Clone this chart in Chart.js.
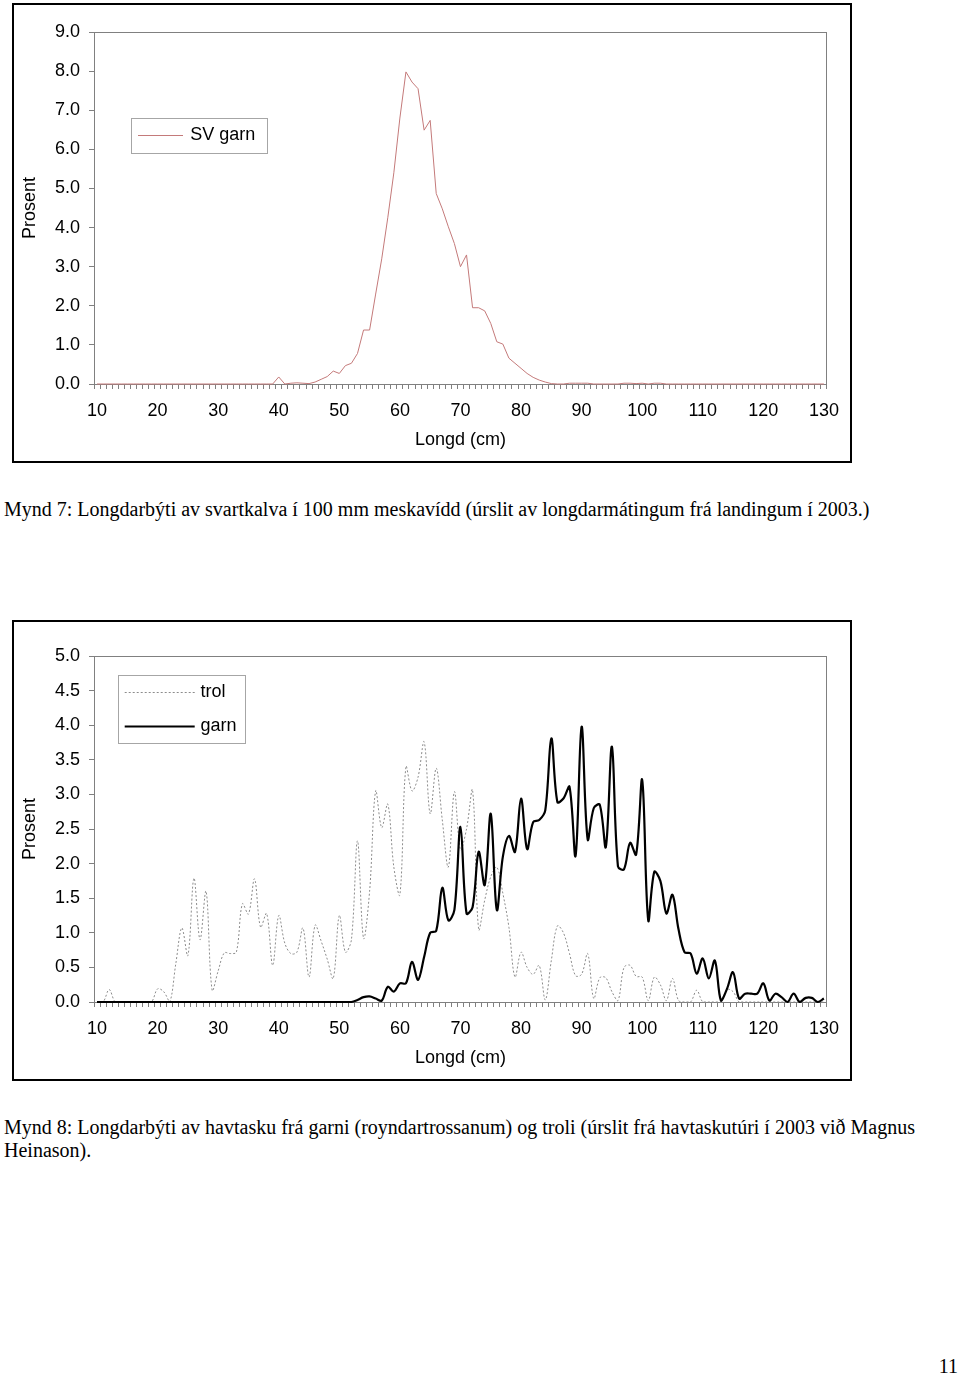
<!DOCTYPE html>
<html>
<head>
<meta charset="utf-8">
<title>Longdarbýti</title>
<script src="https://cdn.jsdelivr.net/npm/chart.js@4.4.1/dist/chart.umd.min.js"></script>
<style>
  html, body { margin: 0; padding: 0; background: #fff; }
  body { position: relative; width: 960px; height: 1375px; overflow: hidden; }
  .frame { position: absolute; left: 12px; width: 840px; box-sizing: border-box; border: 2px solid #000; background: #fff; }
  .frame .inner { position: relative; width: 836px; }
  .caption { position: absolute; left: 4px; font-family: "Liberation Serif", "Times New Roman", serif; font-size: 20px; line-height: 22.5px; color: #000; white-space: nowrap; }
</style>
</head>
<body>

<div class="frame" style="top:3px;height:460px"><div class="inner" style="height:456px"><canvas id="chartSv"></canvas></div></div>
<div class="caption" style="top:498px">Mynd 7: Longdarbýti av svartkalva í 100 mm meskavídd (úrslit av longdarmátingum frá landingum í 2003.)</div>

<div class="frame" style="top:620px;height:461px"><div class="inner" style="height:457px"><canvas id="chartHav"></canvas></div></div>
<div class="caption" style="top:1116px">Mynd 8: Longdarbýti av havtasku frá garni (royndartrossanum) og troli (úrslit frá havtaskutúri í 2003 við Magnus<br>Heinason).</div>

<div class="caption" style="top:1355px;left:auto;right:2px">11</div>

<script>
// Longd (cm): ein bólkur fyri hvønn cm, 10..130
const longdir = [];
for (let cm = 10; cm <= 130; cm++) longdir.push(cm);

// Mynd 7 - svartkalvi, SV garn (prosent)
const svGarn = [
  0, 0, 0, 0, 0, 0, 0, 0, 0, 0,                            // 10-19
  0, 0, 0, 0, 0, 0, 0, 0, 0, 0,                            // 20-29
  0, 0, 0, 0, 0, 0, 0, 0, 0, 0,                            // 30-39
  0.18, 0, 0.02, 0.03, 0.02, 0.01, 0.05, 0.12, 0.19, 0.33, // 40-49
  0.27, 0.47, 0.53, 0.78, 1.38, 1.38, 2.3, 3.2, 4.25, 5.4, // 50-59
  6.8, 7.98, 7.72, 7.55, 6.49, 6.74, 4.87, 4.48, 4.02, 3.59, // 60-69
  3.0, 3.3, 1.95, 1.95, 1.87, 1.55, 1.08, 1.02, 0.66, 0.53,  // 70-79
  0.4, 0.27, 0.17, 0.1, 0.05, 0.01, 0, 0, 0.02, 0.02,        // 80-89
  0.02, 0.02, 0, 0, 0, 0, 0, 0.02, 0.02, 0.01,               // 90-99
  0.02, 0, 0.02, 0.02, 0, 0, 0, 0, 0, 0,                     // 100-109
  0, 0, 0, 0, 0, 0, 0, 0, 0, 0,                              // 110-119
  0, 0, 0, 0, 0, 0, 0, 0, 0, 0, 0                            // 120-130
];

// Mynd 8 - havtaska, trol (prosent)
const trol = [
  0, 0, 0.18, 0, 0, 0, 0, 0, 0, 0,                           // 10-19
  0.19, 0.15, 0, 0.55, 1.07, 0.67, 1.79, 0.9, 1.6, 0.17,     // 20-29
  0.45, 0.71, 0.7, 0.72, 1.42, 1.27, 1.78, 1.08, 1.28, 0.53, // 30-39
  1.25, 0.85, 0.7, 0.72, 1.07, 0.36, 1.11, 0.88, 0.62, 0.34, // 40-49
  1.25, 0.72, 0.9, 2.33, 0.92, 1.6, 3.05, 2.52, 2.86, 1.95,  // 50-59
  1.55, 3.4, 3.05, 3.25, 3.76, 2.72, 3.38, 2.63, 1.95, 3.04, // 60-69
  2.2, 2.5, 3.06, 1.05, 1.47, 1.81, 1.95, 1.57, 1.08, 0.36,  // 70-79
  0.72, 0.5, 0.4, 0.53, 0.03, 0.6, 1.1, 1.0, 0.7, 0.38,      // 80-89
  0.4, 0.7, 0.05, 0.35, 0.35, 0.15, 0.02, 0.5, 0.53, 0.37,   // 90-99
  0.36, 0.02, 0.36, 0.25, 0.02, 0.34, 0.02, 0, 0, 0.17,      // 100-109
  0, 0, 0, 0, 0.18, 0.15, 0, 0, 0, 0,                        // 110-119
  0, 0, 0, 0, 0, 0, 0, 0, 0, 0, 0                            // 120-130
];

// Mynd 8 - havtaska, garn (prosent)
const garn = [
  0, 0, 0, 0, 0, 0, 0, 0, 0, 0,                              // 10-19
  0, 0, 0, 0, 0, 0, 0, 0, 0, 0,                              // 20-29
  0, 0, 0, 0, 0, 0, 0, 0, 0, 0,                              // 30-39
  0, 0, 0, 0, 0, 0, 0, 0, 0, 0,                              // 40-49
  0, 0, 0, 0.03, 0.07, 0.08, 0.05, 0.02, 0.22, 0.15,         // 50-59
  0.27, 0.27, 0.58, 0.32, 0.65, 1.0, 1.03, 1.65, 1.18, 1.33, // 60-69
  2.53, 1.28, 1.37, 2.17, 1.69, 2.72, 1.33, 2.1, 2.4, 2.17,  // 70-79
  2.94, 2.21, 2.6, 2.63, 2.77, 3.81, 2.89, 2.94, 3.11, 2.11, // 80-89
  3.98, 2.35, 2.8, 2.85, 2.24, 3.69, 1.96, 1.92, 2.3, 2.13,  // 90-99
  3.21, 1.18, 1.88, 1.75, 1.28, 1.55, 1.05, 0.72, 0.7, 0.41, // 100-109
  0.63, 0.34, 0.6, 0.02, 0.19, 0.43, 0.05, 0.12, 0.12, 0.12, // 110-119
  0.27, 0.02, 0.12, 0.07, 0, 0.12, 0, 0.06, 0.06, 0, 0.05    // 120-130
];

const FONT = '"Liberation Sans", Arial, sans-serif';
Chart.defaults.font.family = FONT;
Chart.defaults.font.size = 18;
Chart.defaults.color = '#000';

// gráur rammi rundan um teknaøkið
const plotFrame = {
  id: 'plotFrame',
  beforeDatasetsDraw(chart) {
    const { ctx, chartArea: a } = chart;
    ctx.save();
    ctx.strokeStyle = '#808080';
    ctx.lineWidth = 1;
    ctx.strokeRect(Math.round(a.left) + 0.5, Math.round(a.top) + 0.5, Math.round(a.width) - 1, Math.round(a.height));
    ctx.restore();
  }
};

// forklaring í kassa inni í teknaøkinum
const boxLegend = {
  id: 'boxLegend',
  afterDraw(chart, args, opts) {
    const { ctx, chartArea } = chart;
    const x = Math.round(chartArea.left + opts.x);
    const y = Math.round(chartArea.top + opts.y);
    ctx.save();
    ctx.fillStyle = '#fff';
    ctx.fillRect(x, y, opts.w, opts.h);
    ctx.strokeStyle = '#a6a6a6';
    ctx.lineWidth = 1;
    ctx.strokeRect(x + 0.5, y + 0.5, opts.w, opts.h);
    opts.rows.forEach(row => {
      const ds = chart.data.datasets[row.dataset];
      const ly = Math.round(y + row.y) + 0.5;
      ctx.beginPath();
      ctx.setLineDash(ds.borderDash || []);
      ctx.strokeStyle = ds.borderColor;
      ctx.lineWidth = ds.borderWidth;
      ctx.moveTo(x + opts.lineFrom, ly);
      ctx.lineTo(x + opts.lineTo, ly);
      ctx.stroke();
      ctx.setLineDash([]);
      ctx.fillStyle = '#000';
      ctx.font = '18px ' + FONT;
      ctx.textBaseline = 'middle';
      ctx.fillText(ds.label, x + opts.textX, ly);
    });
    ctx.restore();
  }
};

function makeChart(canvasId, datasets, yMax, yStep, padTop, legendOpts) {
  const ctx = document.getElementById(canvasId);
  return new Chart(ctx, {
    type: 'line',
    data: { labels: longdir, datasets: datasets },
    plugins: [plotFrame, boxLegend],
    options: {
      responsive: true,
      maintainAspectRatio: false,
      animation: false,
      layout: { padding: { top: padTop, right: 21, bottom: 0, left: 0 } },
      elements: { point: { radius: 0, hoverRadius: 0 } },
      plugins: {
        legend: { display: false },
        tooltip: { enabled: false },
        boxLegend: legendOpts
      },
      scales: {
        x: {
          type: 'category',
          offset: true,
          grid: { display: true, offset: true, drawOnChartArea: false, drawTicks: true, tickLength: 5, color: '#808080' },
          border: { display: true, color: '#808080' },
          ticks: {
            autoSkip: false, maxRotation: 0, minRotation: 0, padding: 11,
            callback: (val, idx) => (longdir[idx] % 10 === 0 ? String(longdir[idx]) : '')
          },
          title: { display: true, text: 'Longd (cm)', padding: { top: 0, bottom: 10 } },
          afterFit: s => { s.height = 77; }
        },
        y: {
          min: 0, max: yMax,
          grid: { display: true, drawOnChartArea: false, drawTicks: true, tickLength: 5, color: '#808080' },
          border: { display: true, color: '#808080' },
          ticks: { stepSize: yStep, padding: 9, callback: v => Number(v).toFixed(1) },
          title: { display: true, text: 'Prosent', padding: { top: 5, bottom: 0 } },
          afterFit: s => { s.width = 80; }
        }
      }
    }
  });
}

makeChart('chartSv', [
  { label: 'SV garn', data: svGarn, borderColor: '#c47a7a', borderWidth: 1, tension: 0, clip: false }
], 9, 1, 27, {
  x: 36.7, y: 86, w: 136, h: 35, lineFrom: 7, lineTo: 52, textX: 59.3,
  rows: [{ dataset: 0, y: 17 }]
});

makeChart('chartHav', [
  { label: 'trol', data: trol, borderColor: '#8c8c8c', borderWidth: 1, borderDash: [2, 2], tension: 0.35, clip: false, order: 2 },
  { label: 'garn', data: garn, borderColor: '#000', borderWidth: 2.2, tension: 0.35, clip: false, order: 1 }
], 5, 0.5, 34, {
  x: 24.3, y: 19, w: 127, h: 68, lineFrom: 6.7, lineTo: 76.7, textX: 82.4,
  rows: [{ dataset: 0, y: 16.7 }, { dataset: 1, y: 50.7 }]
});
</script>
</body>
</html>
